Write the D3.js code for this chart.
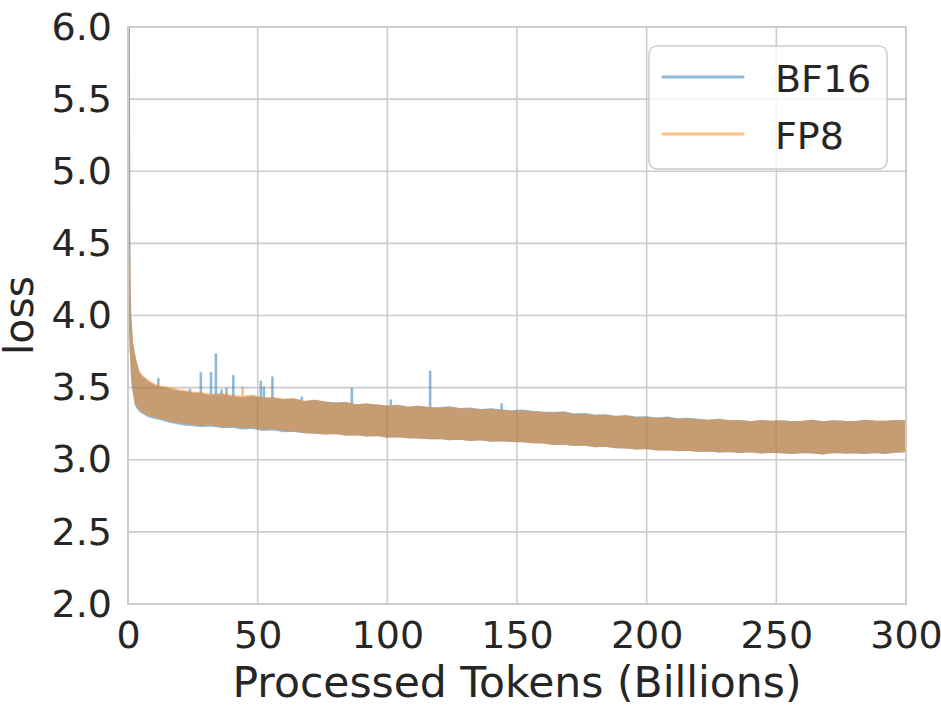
<!DOCTYPE html>
<html>
<head>
<meta charset="utf-8">
<script src="https://cdn.jsdelivr.net/npm/d3@7"></script>
<style>
  body { margin: 0; background: #fff; }
  text { font-family: "DejaVu Sans", sans-serif; fill: #262626; }
</style>
</head>
<body>
<div id="chart"></div>
<script>
// loss curves (upper / lower edge of each noisy band)
var tokens = [0.45, 0.55, 0.7, 0.95, 1.6, 2.9, 4, 5, 6, 8, 10, 12, 14, 16, 18, 20, 22, 24,
  28, 32, 36, 40, 44, 48, 52, 56, 60, 64, 68, 72, 76, 80, 84, 88, 92, 96, 100,
  104, 108, 112, 116, 120, 124, 128, 132, 136, 140, 144, 148, 152, 156, 160, 164, 168, 172,
  176, 180, 184, 188, 192, 196, 200, 204, 208, 212, 216, 220, 224, 228, 232, 236, 240, 244,
  248, 252, 256, 260, 264, 268, 272, 276, 280, 284, 288, 292, 296, 300];

var bf16High = [6.00, 4.60, 4.25, 4.00, 3.81, 3.69, 3.61, 3.58, 3.565, 3.535, 3.515, 3.50, 3.495, 3.488, 3.48, 3.472, 3.468, 3.46,
  3.455, 3.442, 3.448, 3.435, 3.428, 3.436, 3.422, 3.425, 3.415, 3.42, 3.402, 3.41, 3.398, 3.392, 3.395, 3.38, 3.385, 3.378, 3.37,
  3.376, 3.362, 3.368, 3.36, 3.359, 3.366, 3.354, 3.356, 3.347, 3.352, 3.344, 3.337, 3.342, 3.334, 3.329, 3.326, 3.33, 3.316,
  3.319, 3.309, 3.31, 3.30, 3.304, 3.294, 3.296, 3.288, 3.294, 3.282, 3.286, 3.279, 3.272, 3.278, 3.268, 3.27, 3.262, 3.27,
  3.264, 3.268, 3.262, 3.265, 3.272, 3.262, 3.268, 3.264, 3.262, 3.272, 3.266, 3.264, 3.27, 3.268];

var bf16Low = [6.00, 4.00, 3.90, 3.76, 3.53, 3.38, 3.35, 3.33, 3.32, 3.30, 3.29, 3.282, 3.272, 3.262, 3.255, 3.248, 3.242, 3.24,
  3.232, 3.236, 3.225, 3.228, 3.216, 3.22, 3.205, 3.21, 3.196, 3.20, 3.19, 3.186, 3.18, 3.184, 3.172, 3.176, 3.166, 3.17, 3.158,
  3.162, 3.155, 3.152, 3.148, 3.15, 3.14, 3.145, 3.136, 3.14, 3.131, 3.134, 3.128, 3.126, 3.12, 3.118, 3.108, 3.112, 3.10,
  3.104, 3.092, 3.096, 3.086, 3.084, 3.076, 3.08, 3.07, 3.072, 3.064, 3.068, 3.06, 3.062, 3.056, 3.06, 3.052, 3.058, 3.048,
  3.054, 3.05, 3.045, 3.052, 3.048, 3.042, 3.052, 3.048, 3.05, 3.045, 3.052, 3.046, 3.054, 3.058];

var fp8High = [6.00, 4.60, 4.25, 4.00, 3.81, 3.69, 3.62, 3.59, 3.575, 3.545, 3.525, 3.51, 3.505, 3.498, 3.49, 3.482, 3.478, 3.47,
  3.465, 3.452, 3.458, 3.445, 3.438, 3.446, 3.428, 3.43, 3.418, 3.42, 3.402, 3.41, 3.398, 3.392, 3.395, 3.38, 3.385, 3.378, 3.37,
  3.376, 3.362, 3.368, 3.36, 3.355, 3.362, 3.35, 3.352, 3.343, 3.348, 3.34, 3.333, 3.338, 3.33, 3.325, 3.322, 3.326, 3.312,
  3.315, 3.305, 3.306, 3.296, 3.30, 3.29, 3.292, 3.284, 3.29, 3.278, 3.282, 3.275, 3.272, 3.278, 3.268, 3.27, 3.262, 3.27,
  3.264, 3.268, 3.262, 3.265, 3.272, 3.262, 3.268, 3.264, 3.262, 3.272, 3.266, 3.264, 3.27, 3.268];

var fp8Low = [6.00, 4.00, 3.90, 3.76, 3.54, 3.39, 3.36, 3.34, 3.33, 3.31, 3.30, 3.292, 3.282, 3.272, 3.265, 3.258, 3.252, 3.25,
  3.24, 3.244, 3.233, 3.236, 3.224, 3.228, 3.213, 3.218, 3.204, 3.20, 3.19, 3.186, 3.18, 3.184, 3.172, 3.176, 3.166, 3.17, 3.158,
  3.162, 3.155, 3.152, 3.148, 3.15, 3.14, 3.145, 3.136, 3.14, 3.131, 3.134, 3.128, 3.126, 3.12, 3.118, 3.108, 3.112, 3.10,
  3.104, 3.092, 3.096, 3.086, 3.084, 3.076, 3.08, 3.07, 3.072, 3.064, 3.068, 3.06, 3.062, 3.056, 3.06, 3.052, 3.058, 3.048,
  3.054, 3.05, 3.045, 3.052, 3.048, 3.042, 3.052, 3.048, 3.05, 3.045, 3.052, 3.046, 3.054, 3.058];

// loss spikes sticking out of the band
var bf16SpikeT = [11.7, 23.9, 28.1, 30.5, 32.0, 33.9, 36.1, 38.0, 40.6, 49.4, 51.2, 52.4, 55.7, 63.8, 67.0, 86.3, 101.3, 116.5, 144.1];
var bf16SpikePeak = [3.56, 3.485, 3.60, 3.44, 3.60, 3.73, 3.48, 3.49, 3.58, 3.43, 3.54, 3.50, 3.57, 3.41, 3.43, 3.49, 3.41, 3.61, 3.385];
var bf16SpikeBase = [3.45, 3.40, 3.40, 3.40, 3.40, 3.40, 3.40, 3.40, 3.38, 3.38, 3.38, 3.38, 3.36, 3.36, 3.36, 3.34, 3.32, 3.30, 3.30];
var fp8SpikeT = [44.2];
var fp8SpikePeak = [3.50];
var fp8SpikeBase = [3.38];

var xTicks = [0, 50, 100, 150, 200, 250, 300];
var yTicks = [2.0, 2.5, 3.0, 3.5, 4.0, 4.5, 5.0, 5.5, 6.0];
var seriesNames = ["BF16", "FP8"];
var seriesColors = ["#1f77b4", "#ff7f0e"];

var svgWidth = 941;
var svgHeight = 711;
var margin = { top: 27, right: 35, bottom: 107, left: 128 };
var width = svgWidth - margin.left - margin.right;
var height = svgHeight - margin.top - margin.bottom;

var svg = d3.select("#chart")
  .append("svg")
  .attr("width", svgWidth)
  .attr("height", svgHeight);

var chart = svg.append("g")
  .attr("transform", `translate(${margin.left}, ${margin.top})`);

var xScale = d3.scaleLinear().domain([0, 300]).range([0, width]);
var yScale = d3.scaleLinear().domain([2, 6]).range([height, 0]);

// grid
chart.append("g")
  .selectAll("line")
  .data(xTicks)
  .enter()
  .append("line")
  .attr("x1", d => xScale(d)).attr("x2", d => xScale(d))
  .attr("y1", 0).attr("y2", height)
  .attr("stroke", "#cccccc")
  .attr("stroke-width", 1.6);

chart.append("g")
  .selectAll("line")
  .data(yTicks)
  .enter()
  .append("line")
  .attr("x1", 0).attr("x2", width)
  .attr("y1", d => yScale(d)).attr("y2", d => yScale(d))
  .attr("stroke", "#cccccc")
  .attr("stroke-width", 1.6);

chart.append("clipPath")
  .attr("id", "plotClip")
  .append("rect")
  .attr("width", width)
  .attr("height", height);

var plot = chart.append("g").attr("clip-path", "url(#plotClip)");

// each series drawn opaque inside a group, the group gets alpha 0.5 like a matplotlib line
function drawSeries(high, low, spikeT, spikePeak, spikeBase, color) {
  var rows = tokens.map((t, i) => ({ t: t, hi: high[i], lo: low[i] }));
  var band = d3.area()
    .x(d => xScale(d.t))
    .y0(d => yScale(d.lo))
    .y1(d => yScale(d.hi));

  var g = plot.append("g").attr("opacity", 0.5);

  g.append("path")
    .datum(rows)
    .attr("d", band)
    .attr("fill", color)
    .attr("stroke", color)
    .attr("stroke-width", 1.6)
    .attr("stroke-linejoin", "round");

  g.selectAll(null)
    .data(spikeT)
    .enter()
    .append("line")
    .attr("x1", d => xScale(d)).attr("x2", d => xScale(d))
    .attr("y1", (d, i) => yScale(spikePeak[i]))
    .attr("y2", (d, i) => yScale(spikeBase[i]))
    .attr("stroke", color)
    .attr("stroke-width", 2.6)
    .attr("stroke-linecap", "round");
}

drawSeries(bf16High, bf16Low, bf16SpikeT, bf16SpikePeak, bf16SpikeBase, seriesColors[0]);
drawSeries(fp8High, fp8Low, fp8SpikeT, fp8SpikePeak, fp8SpikeBase, seriesColors[1]);

// frame
chart.append("rect")
  .attr("width", width)
  .attr("height", height)
  .attr("fill", "none")
  .attr("stroke", "#cccccc")
  .attr("stroke-width", 2);

// axes (labels only, seaborn whitegrid has no tick marks)
var xAxis = chart.append("g")
  .attr("transform", `translate(0, ${height})`)
  .call(d3.axisBottom(xScale).tickValues(xTicks).tickSize(0).tickPadding(17).tickFormat(d3.format("d")));

var yAxis = chart.append("g")
  .call(d3.axisLeft(yScale).tickValues(yTicks).tickSize(0).tickPadding(16).tickFormat(d3.format(".1f")));

[xAxis, yAxis].forEach(function(ax) {
  ax.select(".domain").remove();
  ax.selectAll("text")
    .attr("font-family", "DejaVu Sans")
    .attr("font-size", "38px")
    .attr("fill", "#262626");
});

svg.append("text")
  .attr("x", margin.left + width / 2)
  .attr("y", 697)
  .attr("text-anchor", "middle")
  .attr("font-size", "42.5px")
  .text("Processed Tokens (Billions)");

svg.append("text")
  .attr("transform", `translate(33, ${margin.top + height / 2}) rotate(-90)`)
  .attr("text-anchor", "middle")
  .attr("font-size", "41px")
  .text("loss");

// legend
var legend = svg.append("g").attr("transform", "translate(649, 46)");

legend.append("rect")
  .attr("width", 238)
  .attr("height", 123)
  .attr("rx", 8)
  .attr("fill", "#ffffff")
  .attr("fill-opacity", 0.8)
  .attr("stroke", "#cccccc")
  .attr("stroke-width", 1.5);

var legendRows = legend.selectAll("g.row")
  .data(seriesNames)
  .enter()
  .append("g")
  .attr("transform", (d, i) => `translate(0, ${31 + i * 57})`);

legendRows.append("line")
  .attr("x1", 14).attr("x2", 94)
  .attr("stroke", (d, i) => seriesColors[i])
  .attr("stroke-opacity", 0.5)
  .attr("stroke-width", 3.2)
  .attr("stroke-linecap", "round");

legendRows.append("text")
  .attr("x", 126)
  .attr("y", 15)
  .attr("font-size", "38px")
  .text(d => d);
</script>
</body>
</html>
